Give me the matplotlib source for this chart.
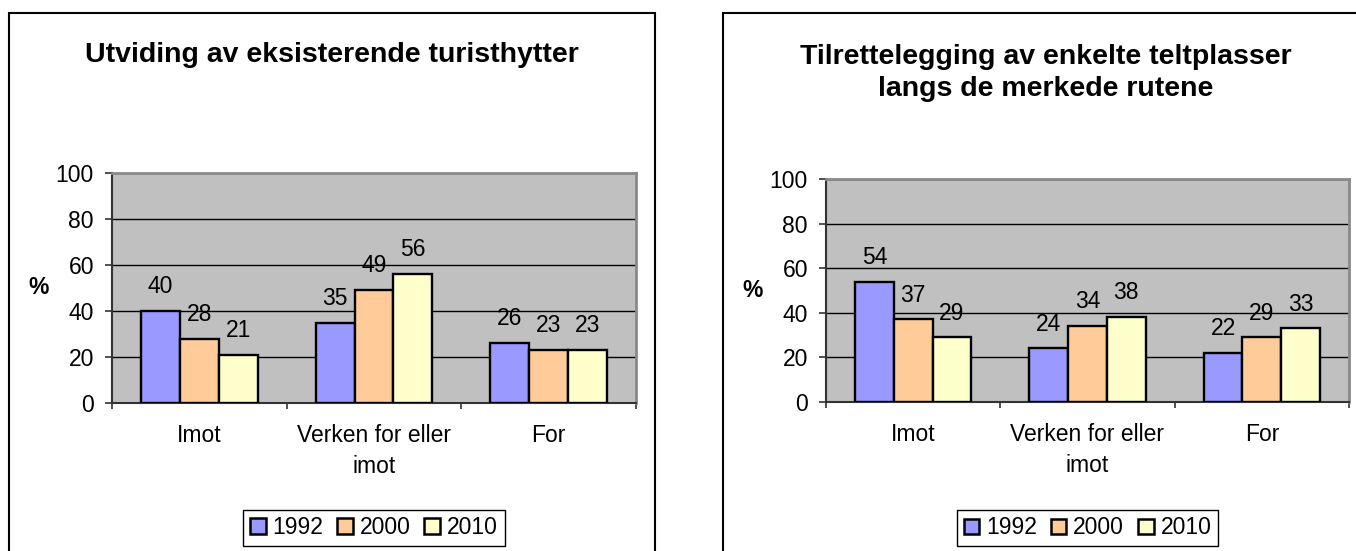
import matplotlib.pyplot as plt
from matplotlib.patches import Rectangle

plt.rcParams['font.family'] = ['Liberation Sans', 'DejaVu Sans']

# svaralternativer og årganger
kategorier = ['Imot', 'Verken for eller\nimot', 'For']
aar = ['1992', '2000', '2010']
farger = ['#9999FF', '#FFCC99', '#FFFFCC']

# Utviding av eksisterende turisthytter
hytter_1992 = [40, 35, 26]
hytter_2000 = [28, 49, 23]
hytter_2010 = [21, 56, 23]

# Tilrettelegging av enkelte teltplasser
telt_1992 = [54, 24, 22]
telt_2000 = [37, 34, 29]
telt_2010 = [29, 38, 33]

W, H = 1356, 551
FS = 16.5
fig = plt.figure(figsize=(W / 100, H / 100), dpi=100)


def tegn_panel(pos, serier, legend_y):
    ax = fig.add_axes(pos)
    ax.set_facecolor('#C0C0C0')
    bredde = 0.2225
    x = range(len(kategorier))
    for i, verdier in enumerate(serier):
        xs = [k + (i - 1) * bredde for k in x]
        ax.bar(xs, verdier, width=bredde, color=farger[i], edgecolor='black',
               linewidth=1.7, label=aar[i], zorder=3)
        for xv, v in zip(xs, verdier):
            ax.annotate(str(v), (xv, v), xytext=(0, 17.5), textcoords='offset points',
                        ha='center', va='center', fontsize=FS, zorder=4)

    ax.set_xlim(-0.5, 2.5)
    ax.set_ylim(0, 100)
    ax.set_yticks(range(0, 101, 20))
    ax.yaxis.grid(True, color='black', linewidth=1.0, zorder=1)
    ax.set_axisbelow(True)
    ax.tick_params(axis='y', direction='out', length=5, width=1.2, pad=8,
                   labelsize=FS, color='#333333')

    # kategorinavn midt i hver gruppe, streker mellom gruppene
    ax.set_xticks(list(x))
    ax.set_xticklabels(kategorier)
    ax.set_xticks([-0.5, 0.5, 1.5, 2.5], minor=True)
    ax.tick_params(axis='x', which='major', length=0, pad=15, labelsize=FS)
    ax.tick_params(axis='x', which='minor', direction='out', length=4.5, width=1.2,
                   color='#333333')
    for t in ax.get_xticklabels():
        t.set_linespacing(1.45)
        t.set_va('top')

    for side in ['top', 'right']:
        ax.spines[side].set_color('#8A8A8A')
        ax.spines[side].set_linewidth(2)
    for side in ['left', 'bottom']:
        ax.spines[side].set_color('#333333')
        ax.spines[side].set_linewidth(1.5)

    ax.set_ylabel('%', rotation=0, fontsize=FS, fontweight='bold', va='center')
    ax.yaxis.set_label_coords(-0.141, 0.5)

    ax.legend(loc='center', bbox_to_anchor=(0.5, legend_y), ncol=3, fontsize=FS,
              frameon=True, fancybox=False, edgecolor='black', framealpha=1,
              handlelength=0.68, handleheight=0.68, handletextpad=0.3,
              columnspacing=0.6, borderpad=0.3)
    leg = ax.get_legend()
    leg.get_frame().set_linewidth(1.0)
    for p in leg.get_patches():
        p.set_linewidth(1.8)
    return ax


venstre = tegn_panel([112 / W, 148 / H, 524 / W, 230 / H],
                     [hytter_1992, hytter_2000, hytter_2010], -0.543)
hoyre = tegn_panel([826 / W, 149 / H, 523 / W, 223 / H],
                   [telt_1992, telt_2000, telt_2010], -0.565)

# rammer rundt hvert diagram
for x0 in [9, 723]:
    fig.add_artist(Rectangle((x0 / W, -0.1), 646 / W, 1.1 - 13 / H, transform=fig.transFigure,
                             fill=False, edgecolor='black', linewidth=1.5))

fig.text(332 / W, 1 - 55 / H, 'Utviding av eksisterende turisthytter',
         ha='center', va='center', fontsize=20.5, fontweight='bold')
fig.text(1046 / W, 1 - 73 / H, 'Tilrettelegging av enkelte teltplasser\nlangs de merkede rutene',
         ha='center', va='center', fontsize=20.5, fontweight='bold', linespacing=1.35)

fig.savefig('out.png', dpi=100)
